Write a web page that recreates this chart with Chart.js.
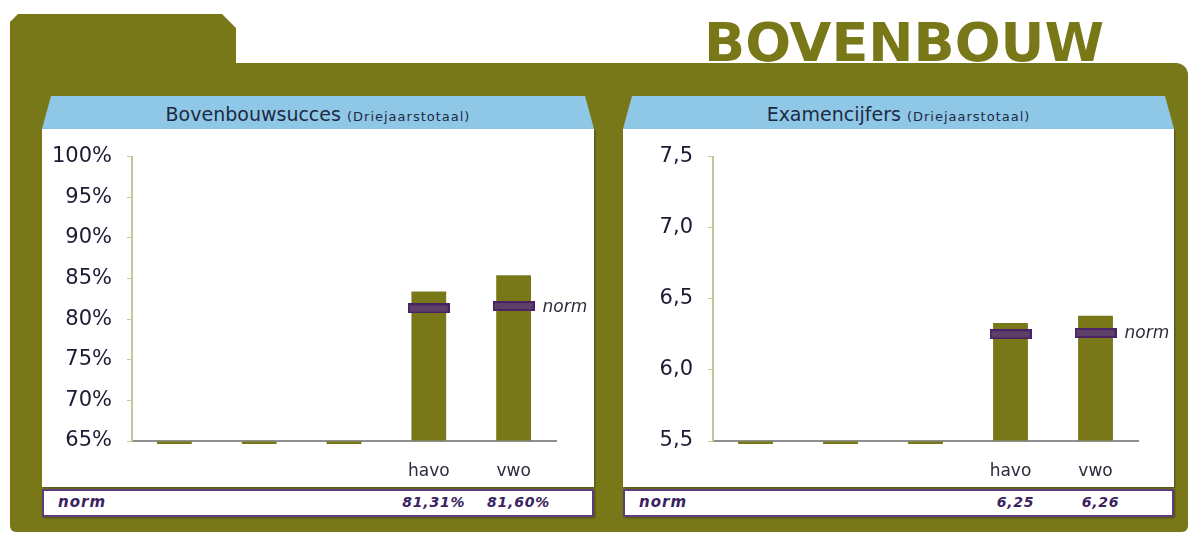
<!DOCTYPE html>
<html>
<head>
<meta charset="utf-8">
<script src="https://cdn.jsdelivr.net/npm/chart.js@4/dist/chart.umd.min.js"></script>
<style>
  body { margin: 0; width: 1190px; height: 534px; background: #fff; position: relative; overflow: hidden;
         font-family: "DejaVu Sans", Verdana, sans-serif; }
  .olive { position: absolute; background: #787819; }
  #tab { left: 10px; top: 14px; width: 226px; height: 60px;
         clip-path: polygon(0 8px, 8px 0, 212px 0, 226px 14px, 226px 100%, 0 100%); }
  #frame { left: 10px; top: 63px; width: 1178px; height: 469px; border-radius: 0 12px 6px 6px; }
  #big { position: absolute; left: 704px; top: 16px; font-weight: bold; font-size: 54px; line-height: 54px; color: #787819; }
  .head { position: absolute; top: 96px; height: 33px; background: #8fc8e6; box-sizing: border-box; padding-top: 3px;
          clip-path: polygon(9px 0, calc(100% - 9px) 0, 100% 100%, 0 100%);
          text-align: center; line-height: 30px; color: #1e2a44; font-size: 19px; white-space: nowrap; }
  .head small { font-size: 13px; letter-spacing: 1px; }
  .panel { position: absolute; top: 129px; height: 358px; background: #fff; box-shadow: 1px 1px 2px rgba(0,0,0,0.35); }
  .panel canvas { position: absolute; left: 0; top: 0; }
  .normrow { position: absolute; top: 489px; height: 28px; box-sizing: border-box; border: 2px solid #5c3c7c; background: #fff;
             box-shadow: 1px 1px 2px rgba(0,0,0,0.35); font-weight: bold; font-style: italic; font-size: 14px; color: #3a2260;
             letter-spacing: 0.8px; }
  .normrow span { position: absolute; top: 3px; white-space: nowrap; }
  .normrow span.lbl { font-size: 15px; letter-spacing: 1px; top: 2px; }
</style>
</head>
<body>
<div class="olive" id="tab"></div>
<div class="olive" id="frame"></div>
<div id="big">BOVENBOUW</div>

<div class="head" style="left:42px; width:552px;">Bovenbouwsucces <small>(Driejaarstotaal)</small></div>
<div class="panel" style="left:42px; width:552px;"><canvas id="succes" width="552" height="358"></canvas></div>
<div class="normrow" id="succesNormRow" style="left:42px; width:552px;"><span class="lbl" style="left:14px;">norm</span></div>

<div class="head" style="left:623px; width:551px;">Examencijfers <small>(Driejaarstotaal)</small></div>
<div class="panel" style="left:623px; width:551px;"><canvas id="cijfers" width="551" height="358"></canvas></div>
<div class="normrow" id="cijfersNormRow" style="left:623px; width:551px;"><span class="lbl" style="left:14px;">norm</span></div>

<script>
"use strict";

const categories = ['', '', '', 'havo', 'vwo'];

const succesValues = [0, 0, 0, 83.4, 85.4];
const succesNorm = [null, null, null, 81.31, 81.60];
const succesRange = [65, 100, 5];

const cijferValues = [0, 0, 0, 6.33, 6.38];
const cijferNorm = [null, null, null, 6.25, 6.26];
const cijferRange = [5.5, 7.5, 0.5];

const OLIVE = '#787819';

function pct(v) { return Math.round(v) + '%'; }
function pct2(v) { return v.toFixed(2).replace('.', ',') + '%'; }
function dec1(v) { return v.toFixed(1).replace('.', ','); }
function dec2(v) { return v.toFixed(2).replace('.', ','); }

function normMarker() {
  const c = document.createElement('canvas');
  c.width = 42; c.height = 10;
  const g = c.getContext('2d');
  g.fillStyle = '#4a2266';
  g.fillRect(0, 0, 42, 10);
  g.fillStyle = '#5d4068';
  g.fillRect(2, 2, 38, 6);
  return c;
}

// writes "norm" next to the last norm marker
const normLabel = {
  id: 'normLabel',
  afterDatasetsDraw(chart) {
    const meta = chart.getDatasetMeta(1);
    const data = chart.data.datasets[1].data;
    let last = -1;
    data.forEach((v, i) => { if (v !== null) last = i; });
    if (last < 0) return;
    const pt = meta.data[last];
    const ctx = chart.ctx;
    ctx.save();
    ctx.font = 'italic 17px "DejaVu Sans"';
    ctx.fillStyle = '#2d2d3d';
    ctx.textAlign = 'left';
    ctx.textBaseline = 'middle';
    ctx.fillText('norm', pt.x + 29, pt.y + 1);
    ctx.restore();
  }
};

function makeChart(id, values, norms, range, tickFmt, rightPad) {
  return new Chart(document.getElementById(id), {
    type: 'bar',
    data: {
      labels: categories,
      datasets: [
        {
          type: 'bar',
          data: values,
          base: range[0],
          backgroundColor: OLIVE,
          categoryPercentage: 0.41,
          barPercentage: 1,
          clip: { left: 0, top: 0, right: 0, bottom: 3 },
          order: 2,
        },
        {
          type: 'line',
          data: norms,
          showLine: false,
          pointStyle: normMarker(),
          pointRadius: 5,
          order: 1,
        },
      ],
    },
    options: {
      responsive: false,
      animation: false,
      events: [],
      plugins: { legend: { display: false }, tooltip: { enabled: false } },
      layout: { padding: { top: 27, right: rightPad, left: 0, bottom: 0 } },
      scales: {
        x: {
          grid: { display: false },
          border: { color: '#8f8f8f', width: 2 },
          ticks: { color: '#2b2b3b', font: { family: 'DejaVu Sans', size: 17 }, padding: 12 },
          afterFit: s => { s.height = 46; },
        },
        y: {
          min: range[0],
          max: range[1],
          ticks: {
            stepSize: range[2],
            callback: v => tickFmt(v),
            color: '#1b1b33',
            font: { family: 'DejaVu Sans', size: 21 },
            padding: 15,
          },
          grid: { drawOnChartArea: false, tickLength: 5, color: '#c5c59a' },
          border: { color: '#c5c59a', width: 2 },
          afterFit: s => { s.width = 90; },
        },
      },
    },
    plugins: [normLabel],
  });
}

function fillNormRow(rowId, chart, norms, fmt) {
  const row = document.getElementById(rowId);
  norms.forEach((v, i) => {
    if (v === null) return;
    const s = document.createElement('span');
    s.textContent = fmt(v);
    s.style.left = (chart.scales.x.getPixelForValue(i) + 3) + 'px';
    s.style.transform = 'translateX(-50%)';
    row.appendChild(s);
  });
}

const succesChart = makeChart('succes', succesValues, succesNorm, succesRange, pct, 38);
const cijferChart = makeChart('cijfers', cijferValues, cijferNorm, cijferRange, dec1, 36);

fillNormRow('succesNormRow', succesChart, succesNorm, pct2);
fillNormRow('cijfersNormRow', cijferChart, cijferNorm, dec2);
</script>
</body>
</html>
